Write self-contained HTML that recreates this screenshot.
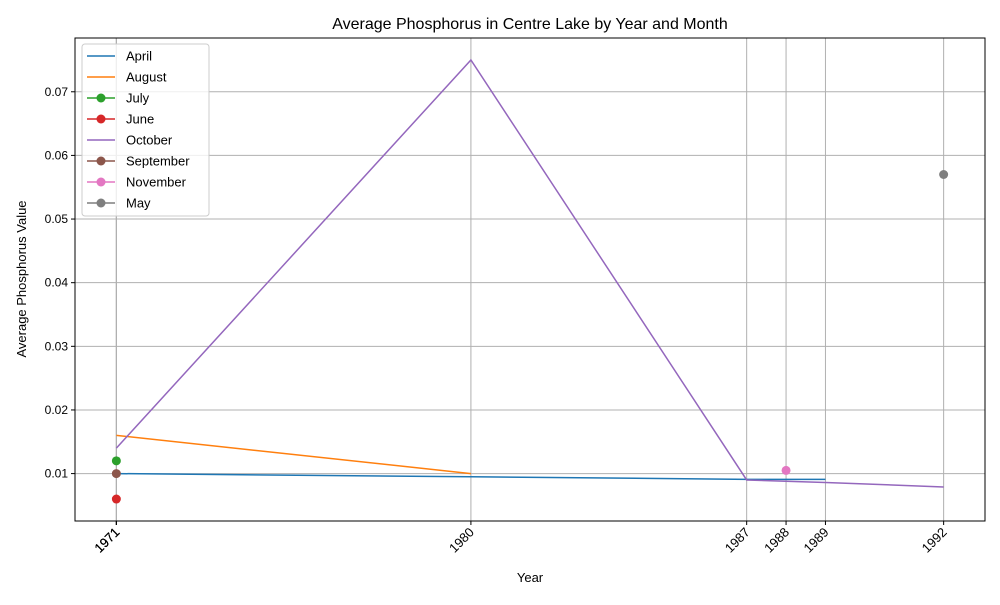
<!DOCTYPE html>
<html><head><meta charset="utf-8"><style>
body{margin:0;background:#fff}
svg{font-family:"Liberation Sans","DejaVu Sans",sans-serif}
</style></head><body>
<svg id="c" width="1000" height="600" xmlns="http://www.w3.org/2000/svg"></svg>
<script>
const seriesNames=["April","August","July","June","October","September","November","May"];
const colors=["#1f77b4","#ff7f0e","#2ca02c","#d62728","#9467bd","#8c564b","#e377c2","#7f7f7f"];
const markers=[false,false,true,true,false,true,true,true];
const aprilX=[1971,1980,1987,1989];const aprilY=[0.0100,0.0095,0.0091,0.0091];
const augustX=[1971,1980];const augustY=[0.016,0.010];
const julyX=[1971];const julyY=[0.012];
const juneX=[1971];const juneY=[0.006];
const octoberX=[1971,1980,1987,1989,1992];const octoberY=[0.014,0.075,0.009,0.0086,0.0079];
const septemberX=[1971];const septemberY=[0.010];
const novemberX=[1988];const novemberY=[0.0105];
const mayX=[1992];const mayY=[0.057];
const xTicks=[1971,1971,1971,1980,1987,1988,1989,1992];
const yTicks=[0.01,0.02,0.03,0.04,0.05,0.06,0.07];
const seriesX=[aprilX,augustX,julyX,juneX,octoberX,septemberX,novemberX,mayX];
const seriesY=[aprilY,augustY,julyY,juneY,octoberY,septemberY,novemberY,mayY];
const L=75,R=985,T=38,B=521;
const xmin=1969.95,xmax=1993.05,ymin=0.00255,ymax=0.07845;
const sx=v=>L+(v-xmin)/(xmax-xmin)*(R-L);
const sy=v=>B-(v-ymin)/(ymax-ymin)*(B-T);
const svg=document.getElementById('c');const NS="http://www.w3.org/2000/svg";
function mk(t,a,p){const e=document.createElementNS(NS,t);for(const k in a)e.setAttribute(k,a[k]);(p||svg).appendChild(e);return e;}
let g;
yTicks.forEach(v=>{
 g=mk('line',{x1:L,x2:R,y1:sy(v),y2:sy(v),stroke:'#b0b0b0','stroke-width':1});
 
 g=mk('line',{x1:L-4,x2:L,y1:sy(v),y2:sy(v),stroke:'#000'});
 
 g=mk('text',{x:L-7,y:sy(v)+4,'text-anchor':'end','font-size':12});g.textContent=v.toFixed(2);
 
});
xTicks.forEach(v=>{
 g=mk('line',{x1:sx(v),x2:sx(v),y1:T,y2:B,stroke:'#b0b0b0','stroke-width':1});
 
 g=mk('line',{x1:sx(v),x2:sx(v),y1:B,y2:B+4,stroke:'#000'});
 
 const x=sx(v)+4,y=B+12;
 g=mk('text',{x:x,y:y,'text-anchor':'end','font-size':13,transform:`rotate(-45 ${x} ${y})`});g.textContent=v;
 
});
seriesNames.forEach((n,i)=>{
 const xs=seriesX[i],ys=seriesY[i];
 if(xs.length>1){g=mk('polyline',{points:xs.map((x,j)=>sx(x)+','+sy(ys[j])).join(' '),fill:'none',stroke:colors[i],'stroke-width':1.5});
 }
 if(markers[i])xs.forEach((x,j)=>{g=mk('circle',{cx:sx(x),cy:sy(ys[j]),r:4.5,fill:colors[i]});
 });
});
g=mk('rect',{x:L,y:T,width:R-L,height:B-T,fill:'none',stroke:'#000','stroke-width':1});

g=mk('text',{x:530,y:29,'text-anchor':'middle','font-size':16});g.textContent='Average Phosphorus in Centre Lake by Year and Month';

g=mk('text',{x:530,y:582,'text-anchor':'middle','font-size':13});g.textContent='Year';

g=mk('text',{x:26,y:279,'text-anchor':'middle','font-size':13,transform:'rotate(-90 26 279)'});g.textContent='Average Phosphorus Value';

const lg=mk('g',{});
g=mk('rect',{x:82,y:44,width:127,height:172,rx:3,fill:'#fff','fill-opacity':0.8,stroke:'#ccc'},lg);
seriesNames.forEach((n,i)=>{
 const y=56+i*21;
 const e=mk('g',{},lg);
 mk('line',{x1:87,x2:115,y1:y,y2:y,stroke:colors[i],'stroke-width':1.5},e);
 if(markers[i])mk('circle',{cx:101,cy:y,r:4.5,fill:colors[i]},e);
 const t=mk('text',{x:126,y:y+4.5,'font-size':13},e);t.textContent=n;
});
</script>
</body></html>
